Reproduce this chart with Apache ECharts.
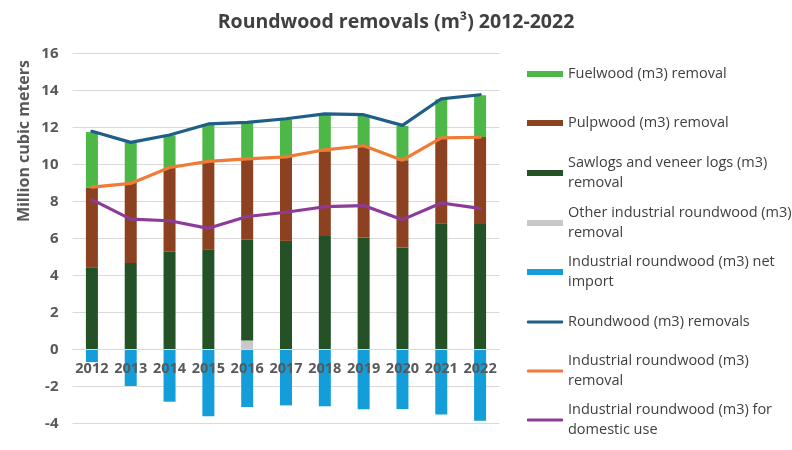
<!DOCTYPE html>
<html>
<head>
<meta charset="utf-8">
<script src="https://cdn.jsdelivr.net/npm/echarts@6/dist/echarts.min.js"></script>
<style>
  html, body { margin: 0; padding: 0; background: #ffffff; }
  #chart { width: 792px; height: 450px; }
</style>
</head>
<body>
<div id="chart"></div>
<script>
// Years on the category axis
const years = ['2012', '2013', '2014', '2015', '2016', '2017', '2018', '2019', '2020', '2021', '2022'];

// Stacked removals, million m3
const otherIndustrial = [0, 0, 0, 0, 0.48, 0, 0, 0, 0, 0, 0];
const sawlogs = [4.45, 4.68, 5.28, 5.42, 5.45, 5.87, 6.14, 6.05, 5.51, 6.83, 6.79];
const pulpwood = [4.31, 4.32, 4.56, 4.74, 4.36, 4.54, 4.58, 4.94, 4.72, 4.61, 4.70];
const fuelwood = [3.00, 2.20, 1.74, 2.02, 1.98, 2.04, 1.98, 1.67, 1.86, 2.09, 2.26];
const netImport = [-0.69, -1.98, -2.83, -3.62, -3.12, -3.03, -3.08, -3.24, -3.23, -3.53, -3.86];

// Totals drawn as lines, million m3
const roundwoodTotal = [11.80, 11.20, 11.60, 12.20, 12.28, 12.48, 12.74, 12.70, 12.12, 13.56, 13.78];
const industrialRemoval = [8.78, 8.98, 9.84, 10.17, 10.31, 10.42, 10.80, 11.02, 10.24, 11.44, 11.48];
const domesticUse = [8.10, 7.05, 6.96, 6.55, 7.19, 7.42, 7.72, 7.78, 7.02, 7.92, 7.63];

// Value-axis range
const yMin = -4, yMax = 16, yStep = 2;

const names = {
  fuel: 'Fuelwood (m3) removal',
  pulp: 'Pulpwood (m3) removal',
  saw: 'Sawlogs and veneer logs (m3) removal',
  other: 'Other industrial roundwood (m3) removal',
  net: 'Industrial roundwood (m3) net import',
  round: 'Roundwood (m3) removals',
  ind: 'Industrial roundwood (m3) removal',
  dom: 'Industrial roundwood (m3) for domestic use'
};
const legendText = {};
legendText[names.fuel] = 'Fuelwood (m3) removal';
legendText[names.pulp] = 'Pulpwood (m3) removal';
legendText[names.saw] = 'Sawlogs and veneer logs (m3)\nremoval';
legendText[names.other] = 'Other industrial roundwood (m3)\nremoval';
legendText[names.net] = 'Industrial roundwood (m3) net\nimport';
legendText[names.round] = 'Roundwood (m3) removals';
legendText[names.ind] = 'Industrial roundwood (m3)\nremoval';
legendText[names.dom] = 'Industrial roundwood (m3) for\ndomestic use';

const colors = {
  fuel: '#4db848', pulp: '#8c4220', saw: '#245226', other: '#c8c8c8',
  net: '#139ed9', round: '#1f5f87', ind: '#f07b36', dom: '#8e3a98'
};

const FONT = '"Open Sans", "Liberation Sans", sans-serif';

// Plot box
const GRID = { left: 72.5, right: 292.5, top: 53.7, bottom: 26.7 };
const plotHeight = 450 - GRID.top - GRID.bottom;
// Shift the category axis up so it runs along the zero line
const zeroOffset = -((0 - yMin) / (yMax - yMin)) * plotHeight;

// One legend block per entry so every row sits at its own height
const legendRows = [
  { key: 'fuel', y: 74, lines: 1, bar: true },
  { key: 'pulp', y: 123, lines: 1, bar: true },
  { key: 'saw', y: 173, lines: 2, bar: true },
  { key: 'other', y: 223, lines: 2, bar: true },
  { key: 'net', y: 272, lines: 2, bar: true },
  { key: 'round', y: 322, lines: 1, bar: false },
  { key: 'ind', y: 371, lines: 2, bar: false },
  { key: 'dom', y: 420, lines: 2, bar: false }
];
const LH = 20;
const legends = legendRows.map(r => ({
  left: 527,
  top: r.y - (r.lines === 2 ? LH * 1.5 : LH / 2),
  padding: 0,
  orient: 'vertical',
  selectedMode: false,
  itemWidth: 36,
  itemHeight: r.bar ? 6 : 3,
  icon: r.bar ? 'rect' : 'roundRect',
  data: [names[r.key]],
  formatter: n => legendText[n],
  textStyle: {
    fontFamily: FONT, fontSize: 14.5, color: '#404040', lineHeight: LH,
    padding: r.lines === 2 ? [LH, 0, 0, 0] : 0
  }
}));

function barSeries(key, data) {
  return {
    name: names[key], type: 'bar', stack: 'wood', data: data,
    barWidth: 12, itemStyle: { color: colors[key] }, z: 2
  };
}
function lineSeries(key, data) {
  return {
    name: names[key], type: 'line', data: data, symbol: 'none',
    lineStyle: { color: colors[key], width: 3.2, cap: 'round', join: 'round' },
    itemStyle: { color: colors[key] }, z: 3
  };
}

const chart = echarts.init(document.getElementById('chart'), null, { renderer: 'canvas' });
chart.setOption({
  animation: false,
  backgroundColor: '#ffffff',
  title: {
    text: 'Roundwood removals (m³) 2012-2022',
    left: 'center', top: 7,
    textStyle: { fontFamily: FONT, fontSize: 19.5, fontWeight: 'bold', color: '#404040' }
  },
  legend: legends,
  grid: { left: GRID.left, right: GRID.right, top: GRID.top, bottom: GRID.bottom, containLabel: false },
  xAxis: {
    type: 'category', data: years, z: 10,
    offset: zeroOffset,
    axisLine: { onZero: false, lineStyle: { color: '#d9d9d9', width: 1 } },
    axisTick: { show: false },
    axisLabel: {
      interval: 0, hideOverlap: false,
      fontFamily: FONT, fontSize: 14.5, fontWeight: 'bold', color: '#595959', margin: 12
    }
  },
  yAxis: {
    type: 'value', min: yMin, max: yMax, interval: yStep,
    axisLine: { show: false }, axisTick: { show: false },
    splitLine: { lineStyle: { color: '#d9d9d9', width: 1 } },
    axisLabel: { fontFamily: FONT, fontSize: 15, fontWeight: 'bold', color: '#595959', margin: 14 }
  },
  graphic: [{
    type: 'text', left: 16, top: 60, rotation: Math.PI / 2,
    style: { text: 'Million cubic meters', font: 'bold 16px ' + FONT, fill: '#595959' }
  }],
  series: [
    barSeries('other', otherIndustrial),
    barSeries('saw', sawlogs),
    barSeries('pulp', pulpwood),
    barSeries('fuel', fuelwood),
    barSeries('net', netImport),
    lineSeries('round', roundwoodTotal),
    lineSeries('ind', industrialRemoval),
    lineSeries('dom', domesticUse)
  ]
});
</script>
</body>
</html>
